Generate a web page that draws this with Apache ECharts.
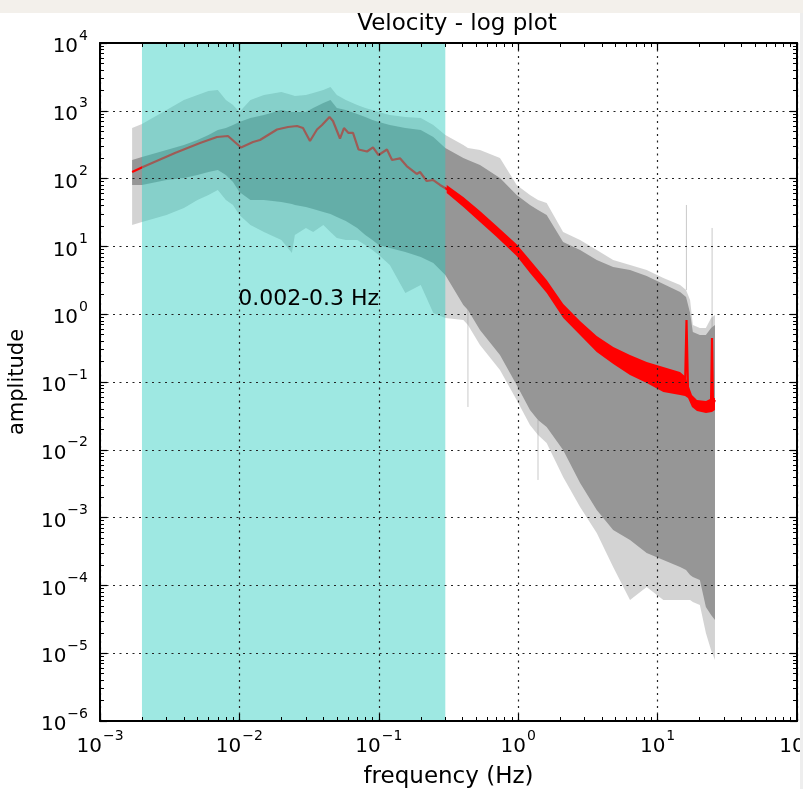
<!DOCTYPE html>
<html><head><meta charset="utf-8">
<script src="https://cdn.jsdelivr.net/npm/echarts@6/dist/echarts.min.js"></script>
<style>html,body{margin:0;padding:0;background:#fff;}#chart{width:803px;height:789px;}</style>
</head><body><div id="chart"></div>
<script>
// ---- data ----
const xMin = 0.001, xMax = 100;
const yMin = 1e-6, yMax = 1e4;
const spanStart = 0.002, spanEnd = 0.3;
const spanLabel = '0.002-0.3 Hz';
const spanLabelPos = [0.0098, 1.67];

// gray trace cloud: frequency grid + envelopes (sparse outer / dense core)
const bandFreq = [0.0017, 0.002, 0.003, 0.004, 0.005, 0.006, 0.007, 0.008, 0.009, 0.01,
  0.012, 0.015, 0.02, 0.0238, 0.025, 0.03, 0.0338, 0.04, 0.045, 0.05,
  0.058, 0.07, 0.08, 0.09, 0.1, 0.12, 0.155, 0.2, 0.246, 0.3,
  0.404, 0.436, 0.532, 0.74, 0.975, 1.215, 1.387, 1.6, 2.1, 2.78,
  3.66, 4.8, 6.34, 8.35, 11.0, 14.5, 16.0, 17.1, 17.9, 20.1,
  22.2, 24.2, 25.8];
const outerUpper = [557, 638, 1028, 1442, 1710, 1959, 2028, 1442, 1219, 959,
  1442, 1710, 1892, 1710, 1652, 1710, 1832, 2028, 2244, 1710,
  1442, 1219, 1099, 1028, 959, 867, 811, 783, 618, 440,
  313, 282, 264, 201, 80.5, 57.3, 48.3, 43.7, 16.3, 12.4,
  8.85, 6.30, 5.32, 4.49, 3.42, 2.70, 2.27, 1.62, 0.693, 0.626,
  0.626, 0.879, 0.973];
const coreUpper = [188, 208, 264, 313, 371, 440, 521, 557, 618, 684,
  783, 867, 1028, 959, 959, 959, 1099, 1303, 1442, 1099,
  1028, 897, 811, 731, 684, 618, 557, 521, 411, 282,
  201, 188, 159, 102, 57.3, 40.8, 34.4, 29.0, 11.6, 8.85,
  6.30, 4.97, 4.49, 3.66, 2.79, 2.12, 1.79, 1.04, 0.546, 0.493,
  0.493, 0.626, 0.693];
const coreLower = [80.5, 80.5, 95.3, 102, 113, 125, 134, 113, 89.1, 63.4,
  48.3, 48.3, 45.2, 42.2, 40.8, 38.1, 35.6, 32.1, 30.1, 27.2,
  23.7, 18.7, 14.7, 12.4, 10.5, 9.47, 8.26, 6.98, 5.69, 3.78,
  1.37, 1.15, 0.585, 0.250, 0.0904, 0.0386, 0.0275, 0.0217, 0.00993, 0.00324,
  0.00129, 6.56e-4, 4.68e-4, 3.01e-4, 2.37e-4, 1.87e-4, 1.69e-4, 1.42e-4, 1.33e-4, 1.20e-4,
  4.80e-5, 3.66e-5, 3.09e-5];
const outerLower = [20.7, 22.9, 29.0, 36.8, 48.3, 57.3, 67.9, 48.3, 40.8, 29.0,
  20.7, 16.3, 12.4, 8.00, 14.7, 18.7, 16.3, 20.7, 16.3, 13.3,
  12.4, 12.4, 10.5, 8.85, 7.46, 5.32, 2.06, 2.70, 1.04, 0.879,
  0.821, 0.693, 0.351, 0.150, 0.0543, 0.0232, 0.0165, 0.0126, 0.00397, 0.00143,
  5.93e-4, 1.87e-4, 6.09e-5, 9.47e-5, 6.09e-5, 6.09e-5, 6.09e-5, 6.09e-5, 5.69e-5, 5.14e-5,
  1.99e-5, 1.11e-5, 7.94e-6];

// isolated thin gray spikes
const spikeFreq = [0.436, 1.387, 16.1, 24.6];
const spikeHigh = [1.37, 0.0275, 40.8, 18.7];
const spikeLow = [0.0428, 0.00359, 2.27, 0.626];

// red mean curve
const redFreq = [0.0017, 0.00203, 0.00345, 0.00522, 0.00691, 0.00828, 0.01027, 0.01252, 0.01405, 0.01861,
  0.02232, 0.02589, 0.02859, 0.03209, 0.03603, 0.03914, 0.0443, 0.04691, 0.05267, 0.05625,
  0.06062, 0.0653, 0.0715, 0.0823, 0.09087, 0.0995, 0.1145, 0.1244, 0.1419, 0.1585,
  0.187, 0.1975, 0.2206, 0.246, 0.2748, 0.3069, 0.4038, 0.5321, 0.7014, 0.827,
  0.9754, 1.215, 1.601, 2.106, 2.776, 3.657, 4.811, 6.339, 8.353, 10.99,
  14.48, 15.73, 16.12, 16.52, 17.65, 19.17, 22.24, 24.16, 24.56, 24.97,
  25.8];
const redAmp = [125, 148, 239, 335, 411, 425, 288, 347, 371, 530,
  577, 597, 557, 359, 530, 618, 811, 708, 390, 557,
  471, 471, 269, 251, 288, 223, 269, 188, 199, 153,
  117, 125, 92.2, 95.3, 80.5, 70.3, 45.6, 28.1, 16.9, 12.9,
  8.85, 5.02, 2.55, 1.11, 0.626, 0.363, 0.242, 0.166, 0.127, 0.103,
  0.0873, 0.0844, 0.821, 0.0762, 0.0507, 0.0443, 0.0414, 0.0458, 0.446, 0.047,
  0.0543];
// spread of the noisy red curve at high frequency
const redBandFreq = [0.307, 0.404, 0.532, 0.701, 0.975, 1.215, 1.601, 2.106, 2.776, 3.657, 4.811,
  6.339, 8.353, 10.99, 14.48, 15.73, 16.52, 17.65, 19.17, 22.24, 24.56, 25.8];
const redBandUpper = [80.5, 53.5, 33.3, 20.0, 10.8, 6.30, 3.19, 1.41, 0.794, 0.477, 0.328,
  0.250, 0.197, 0.166, 0.140, 0.122, 0.0935, 0.0643, 0.0543, 0.0525, 0.0581, 0.0581];
const redBandLower = [61.4, 38.1, 22.9, 13.8, 7.21, 4.05, 2.06, 0.879, 0.493, 0.277, 0.184,
  0.127, 0.0966, 0.0713, 0.0643, 0.0622, 0.0581, 0.0428, 0.0374, 0.0349, 0.0361, 0.0387];

const xTickExp = ['-3', '-2', '-1', '0', '1', '2'];
const yTickExp = ['-6', '-5', '-4', '-3', '-2', '-1', '0', '1', '2', '3', '4'];

// ---- chart ----
const FONT = 'DejaVu Sans';
const chart = echarts.init(document.getElementById('chart'), null, {renderer: 'canvas'});

function supLabel(v, exps) {
  const e = Math.round(Math.log10(v));
  const s = exps.find(t => Number(t) === e);
  if (s === undefined) return '';
  return '{b|10}{s|' + s.replace('-', '\u2212') + '}';
}
const labelRich = {
  b: {fontFamily: FONT, fontSize: 20, color: '#000', lineHeight: 28, verticalAlign: 'bottom'},
  s: {fontFamily: FONT, fontSize: 14, color: '#000', lineHeight: 28, verticalAlign: 'top', padding: [0, 0, 0, 1]}
};

function bandSeries(freq, up, lo, fill, z) {
  return {
    type: 'custom', z: z, silent: true, clip: true,
    data: [[freq[0], up[0]]],
    renderItem: function (params, api) {
      const pts = [];
      for (let i = 0; i < freq.length; i++) pts.push(api.coord([freq[i], up[i]]));
      for (let i = freq.length - 1; i >= 0; i--) pts.push(api.coord([freq[i], lo[i]]));
      return {type: 'polygon', shape: {points: pts}, style: {fill: fill}};
    }
  };
}

const axisCommon = {
  type: 'log', logBase: 10, interval: 1,
  axisLine: {show: true, onZero: false, lineStyle: {color: '#000', width: 2}},
  axisTick: {show: true, inside: true, length: 7, lineStyle: {color: '#000', width: 1.2}},
  minorTick: {show: true, splitNumber: 9, length: 4, lineStyle: {color: '#000', width: 1}},
  z: 20
};

const option = {
  backgroundColor: '#fff',
  animation: false,
  title: {
    text: 'Velocity - log plot', left: 452, top: 8, textAlign: 'center',
    textStyle: {fontFamily: FONT, fontSize: 23, fontWeight: 'normal', color: '#000'}
  },
  graphic: [
    {type: 'rect', shape: {x: 0, y: 0, width: 803, height: 13}, style: {fill: '#f3f0eb'}, z: 100},
    {type: 'rect', shape: {x: 800, y: 13, width: 3, height: 776}, style: {fill: '#eeeeee'}, z: 100}
  ],
  grid: {left: 100, top: 43, width: 697, height: 678, show: false, containLabel: false, outerBoundsMode: 'none'},
  xAxis: [
    Object.assign({}, axisCommon, {
      position: 'bottom', min: xMin, max: xMax, splitNumber: 5,
      name: 'frequency (Hz)', nameLocation: 'middle', nameGap: 45,
      nameTextStyle: {fontFamily: FONT, fontSize: 23, color: '#000'},
      axisLabel: {margin: 8, formatter: v => supLabel(v, xTickExp), rich: labelRich},
      splitLine: {show: true, lineStyle: {color: '#222', type: [2, 4.5], width: 1.2}}
    }),
    Object.assign({}, axisCommon, {
      position: 'top', min: xMin, max: xMax, splitNumber: 5,
      axisLabel: {show: false}, splitLine: {show: false}
    })
  ],
  yAxis: [
    Object.assign({}, axisCommon, {
      position: 'left', min: yMin, max: yMax, splitNumber: 10,
      name: 'amplitude', nameLocation: 'middle', nameGap: 72, nameRotate: 90,
      nameTextStyle: {fontFamily: FONT, fontSize: 21, color: '#000'},
      axisLabel: {margin: 12, formatter: v => supLabel(v, yTickExp), rich: labelRich},
      splitLine: {show: true, lineStyle: {color: '#222', type: [2, 4.5], width: 1.2}}
    }),
    Object.assign({}, axisCommon, {
      position: 'right', min: yMin, max: yMax, splitNumber: 10,
      axisLabel: {show: false}, splitLine: {show: false}
    })
  ],
  series: [
    bandSeries(bandFreq, outerUpper, outerLower, 'rgba(150,150,150,0.42)', 2),
    bandSeries(bandFreq, coreUpper, coreLower, 'rgb(150,150,150)', 3),
    {
      type: 'custom', z: 3, silent: true, clip: true,
      data: spikeFreq.map((f, i) => [f, spikeHigh[i], spikeLow[i]]),
      renderItem: function (params, api) {
        const p1 = api.coord([api.value(0), api.value(1)]);
        const p2 = api.coord([api.value(0), api.value(2)]);
        return {type: 'line', shape: {x1: p1[0], y1: p1[1], x2: p2[0], y2: p2[1]},
          style: {stroke: 'rgba(150,150,150,0.5)', lineWidth: 1}};
      }
    },
    bandSeries(redBandFreq, redBandUpper, redBandLower, '#ff0000', 4),
    {
      type: 'line', z: 5, silent: true, showSymbol: false, symbol: 'none',
      data: redFreq.map((f, i) => [f, redAmp[i]]),
      lineStyle: {color: '#ff0000', width: 2.2}
    },
    {
      type: 'custom', z: 6, silent: true,
      data: [[spanStart, spanEnd]],
      renderItem: function (params, api) {
        const a = api.coord([api.value(0), yMax]);
        const b = api.coord([api.value(1), yMin]);
        const t = api.coord(spanLabelPos);
        return {type: 'group', children: [
          {type: 'rect', shape: {x: a[0], y: a[1], width: b[0] - a[0], height: b[1] - a[1]},
            style: {fill: 'rgba(40,205,190,0.45)'}},
          {type: 'text', x: t[0], y: t[1], z2: 10,
            style: {text: spanLabel, fontFamily: FONT, fontSize: 22, fill: '#000', align: 'left', verticalAlign: 'middle'}}
        ]};
      }
    }
  ]
};
chart.setOption(option);
</script>
</body></html>
